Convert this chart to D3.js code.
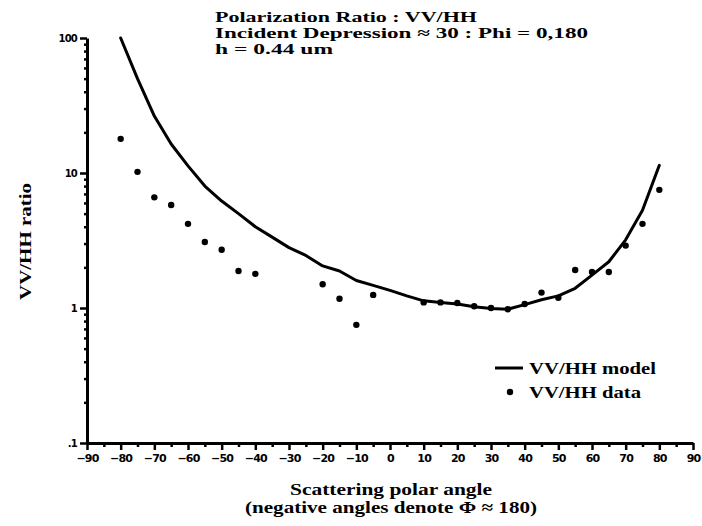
<!DOCTYPE html>
<html>
<head>
<meta charset="utf-8">
<script src="https://cdn.jsdelivr.net/npm/d3@7"></script>
<style>
body { margin: 0; background: #fff; }
svg { display: block; }
.title, .label, .legend { font-family: "Liberation Serif", "DejaVu Serif", serif; font-weight: bold; }
.tick text { font-family: "DejaVu Sans", sans-serif; font-weight: bold; }
</style>
</head>
<body>
<div id="graph"></div>
<script>
// model curve (VV/HH) every 5 degrees
var modelAngles = [-80,-75,-70,-65,-60,-55,-50,-45,-40,-35,-30,-25,-20,-15,-10,-5,0,5,10,15,20,25,30,35,40,45,50,55,60,65,70,75,80];
var modelRatio = [100,50,26.4,16.4,11.3,8.0,6.2,5.0,4.0,3.35,2.8,2.45,2.05,1.88,1.6,1.47,1.35,1.23,1.13,1.1,1.07,1.02,0.99,0.98,1.06,1.15,1.23,1.4,1.75,2.2,3.2,5.3,11.4];

// measured points
var dataAngles = [-80,-75,-70,-65,-60,-55,-50,-45,-40,-20,-15,-10,-5,10,15,20,25,30,35,40,45,50,55,60,65,70,75,80];
var dataRatio = [17.9,10.2,6.6,5.8,4.2,3.08,2.7,1.88,1.79,1.5,1.17,0.75,1.25,1.1,1.1,1.09,1.03,1.0,0.98,1.07,1.3,1.19,1.91,1.85,1.85,2.9,4.2,7.5];

var xTicks = [-90,-80,-70,-60,-50,-40,-30,-20,-10,0,10,20,30,40,50,60,70,80,90];
var yTicks = [0.1,1,10,100];
var yTickLabels = [".1","1","10","100"];

var titleLines = ["Polarization Ratio : VV/HH", "Incident Depression \u2248 30 : Phi = 0,180", "h = 0.44 um"];
var titleWidths = [262, 373, 118];
var xLabelLines = ["Scattering polar angle", "(negative angles denote \u03A6 \u2248 180)"];
var xLabelWidths = [202, 292];
var yLabel = "VV/HH ratio";
var legendNames = ["VV/HH model", "VV/HH data"];
var legendWidths = [127, 112];

var svgWidth = 702, svgHeight = 526;
var svg = d3.select('#graph').append('svg').attr('width', svgWidth).attr('height', svgHeight);

var x = d3.scaleLinear().domain([-90, 90]).range([87, 693]);
var y = d3.scaleLog().domain([0.1, 100]).range([443, 38]);

var model = modelAngles.map(function(a, i) { return {a: a, v: modelRatio[i]}; });
var data = dataAngles.map(function(a, i) { return {a: a, v: dataRatio[i]}; });

// axes
var xMinor = d3.range(-85, 90, 10);
var yMinor = [];
[0.1, 1, 10].forEach(function(d) { for (var k = 2; k < 10; k++) yMinor.push(d * k); });

svg.append('g').attr('transform', 'translate(0,443)')
  .call(d3.axisBottom(x).tickValues(xMinor).tickSize(4).tickFormat(''))
  .call(function(g) { g.select('.domain').remove(); g.selectAll('line').attr('stroke-width', 2.5); });

svg.append('g').attr('class', 'axis axis-x').attr('transform', 'translate(0,443)')
  .call(d3.axisBottom(x).tickValues(xTicks).tickSize(7).tickSizeOuter(0).tickPadding(4))
  .call(function(g) {
    g.select('.domain').attr('stroke-width', 3);
    g.selectAll('line').attr('stroke-width', 2.5);
    g.selectAll('text').attr('font-size', 11).attr('letter-spacing', -0.8);
  });

svg.append('g').attr('transform', 'translate(87,0)')
  .call(d3.axisLeft(y).tickValues(yMinor).tickSize(3).tickFormat(''))
  .call(function(g) { g.select('.domain').remove(); g.selectAll('line').attr('stroke-width', 2.5); });

svg.append('g').attr('class', 'axis axis-y').attr('transform', 'translate(87,0)')
  .call(d3.axisLeft(y).tickValues(yTicks).tickSize(7).tickSizeOuter(0).tickPadding(3)
    .tickFormat(function(d, i) { return yTickLabels[i]; }))
  .call(function(g) {
    g.select('.domain').attr('stroke-width', 3);
    g.selectAll('line').attr('stroke-width', 2.5);
    g.selectAll('text').attr('font-size', 10).attr('letter-spacing', -0.8);
  });

// model line
var line = d3.line()
  .x(function(d) { return x(d.a); })
  .y(function(d) { return y(d.v); });

svg.append('path')
  .datum(model)
  .attr('fill', 'none')
  .attr('stroke', '#000')
  .attr('stroke-width', 3)
  .attr('stroke-linejoin', 'round')
  .attr('stroke-linecap', 'round')
  .attr('d', line);

svg.selectAll('.dot').data(data)
  .enter().append('circle')
  .attr('class', 'dot')
  .attr('cx', function(d) { return x(d.a); })
  .attr('cy', function(d) { return y(d.v); })
  .attr('r', 3.2)
  .attr('fill', '#000');

// title
svg.append('g').selectAll('text').data(titleLines)
  .enter().append('text')
  .attr('class', 'title')
  .attr('x', 215)
  .attr('y', function(d, i) { return 22 + i * 16; })
  .attr('font-size', 15)
  .attr('textLength', function(d, i) { return titleWidths[i]; })
  .attr('lengthAdjust', 'spacingAndGlyphs')
  .text(function(d) { return d; });

// axis labels
svg.append('g').selectAll('text').data(xLabelLines)
  .enter().append('text')
  .attr('class', 'label')
  .attr('x', function(d, i) { return 391 - xLabelWidths[i] / 2; })
  .attr('y', function(d, i) { return 495 + i * 18; })
  .attr('font-size', 17)
  .attr('textLength', function(d, i) { return xLabelWidths[i]; })
  .attr('lengthAdjust', 'spacingAndGlyphs')
  .text(function(d) { return d; });

svg.append('text')
  .attr('class', 'label')
  .attr('transform', 'translate(31,242) rotate(-90)')
  .attr('x', -58)
  .attr('font-size', 17)
  .attr('textLength', 117)
  .attr('lengthAdjust', 'spacingAndGlyphs')
  .text(yLabel);

// legend
var leg = svg.append('g');
leg.append('line')
  .attr('x1', 495).attr('x2', 523).attr('y1', 368).attr('y2', 368)
  .attr('stroke', '#000').attr('stroke-width', 3);
leg.append('circle').attr('cx', 510).attr('cy', 392).attr('r', 3.2).attr('fill', '#000');
leg.selectAll('text.legend').data(legendNames)
  .enter().append('text')
  .attr('class', 'legend')
  .attr('x', 529)
  .attr('y', function(d, i) { return 374 + i * 24; })
  .attr('font-size', 16)
  .attr('textLength', function(d, i) { return legendWidths[i]; })
  .attr('lengthAdjust', 'spacingAndGlyphs')
  .text(function(d) { return d; });
</script>
</body>
</html>
